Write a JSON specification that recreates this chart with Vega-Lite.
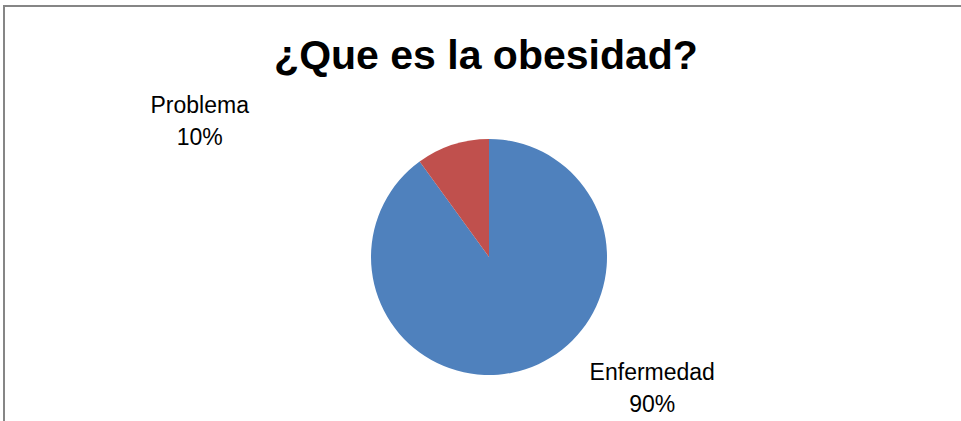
{
  "$schema": "https://vega.github.io/schema/vega-lite/v6.json",
  "autosize": {"type": "none"},
  "width": 970,
  "height": 502,
  "padding": {"left": 4, "top": 6, "right": -13, "bottom": -87},
  "background": "white",
  "view": {"stroke": "#868686", "strokeWidth": 2},
  "title": {
    "text": "¿Que es la obesidad?",
    "font": "Liberation Sans",
    "fontSize": 41,
    "fontWeight": "bold",
    "color": "black",
    "anchor": "middle",
    "offset": -72,
    "dx": -3
  },
  "data": {
    "values": [
      {"label": "Enfermedad", "value": 90, "pct": "90%"},
      {"label": "Problema", "value": 10, "pct": "10%"}
    ]
  },
  "transform": [
    {"calculate": "datum.label + '\\n' + datum.pct", "as": "txt"}
  ],
  "encoding": {
    "theta": {"field": "value", "type": "quantitative", "stack": true},
    "order": {"field": "label", "type": "nominal"}
  },
  "layer": [
    {
      "mark": {"type": "arc", "outerRadius": 118},
      "encoding": {
        "color": {
          "field": "label",
          "type": "nominal",
          "scale": {"domain": ["Enfermedad", "Problema"], "range": ["#4F81BD", "#C0504D"]},
          "legend": null
        }
      }
    },
    {
      "mark": {"type": "text", "radius": 140, "dx": -246, "dy": -11, "align": "center", "baseline": "alphabetic", "font": "Liberation Sans", "fontSize": 23, "lineBreak": "\n", "lineHeight": 32, "color": "black"},
      "encoding": {
        "text": {"condition": {"test": "datum.label === 'Problema'", "field": "txt"}, "value": ""}
      }
    },
    {
      "mark": {"type": "text", "radius": 140, "dx": 120, "dy": -10, "align": "center", "baseline": "alphabetic", "font": "Liberation Sans", "fontSize": 23, "lineBreak": "\n", "lineHeight": 32, "color": "black"},
      "encoding": {
        "text": {"condition": {"test": "datum.label === 'Enfermedad'", "field": "txt"}, "value": ""}
      }
    }
  ]
}
